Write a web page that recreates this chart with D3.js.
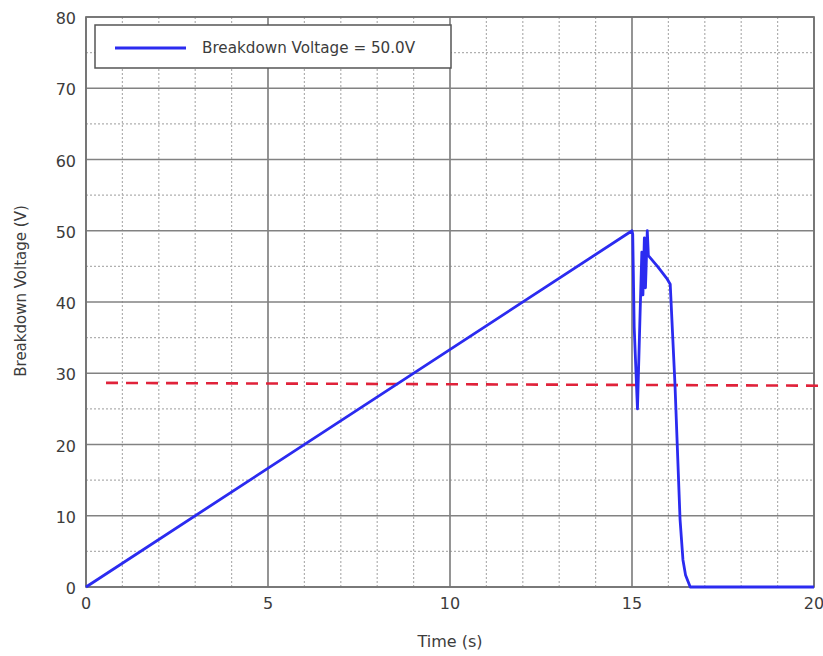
<!DOCTYPE html>
<html>
<head>
<meta charset="utf-8">
<script src="https://cdn.jsdelivr.net/npm/d3@7"></script>
<style>
  body { margin: 0; background: #fff; }
  svg { display: block; }
  text { font-family: "DejaVu Sans", Verdana, sans-serif; fill: #3c3c3c; }
</style>
</head>
<body>
<div class="chart"></div>
<script>
// data
var timeVals = [0, 15, 15.02, 15.06, 15.15, 15.22, 15.27, 15.3, 15.34, 15.37, 15.42, 15.45,
                15.7, 15.97, 16.05, 16.18, 16.32, 16.4, 16.47, 16.6, 20];
var voltVals = [0, 50, 49.5, 36.5, 25, 38, 47, 41, 49, 42, 50, 46.5,
                45, 43.2, 42.5, 28.5, 9.5, 3.8, 1.7, 0, 0];
var limitTime = [0.55, 20.25];
var limitVolt = [28.65, 28.25];
var xTicks = [0, 5, 10, 15, 20];
var yTicks = [0, 10, 20, 30, 40, 50, 60, 70, 80];
var legendLabel = "Breakdown Voltage = 50.0V";

var margin = {top: 17, right: 9, bottom: 69, left: 86};
var width = 823 - margin.left - margin.right;
var height = 656 - margin.top - margin.bottom;

var xScale = d3.scaleLinear().domain([0, 20]).range([0, width]);
var yScale = d3.scaleLinear().domain([0, 80]).range([height, 0]);

var svg = d3.select(".chart")
    .append("svg")
    .attr("width", 823)
    .attr("height", 656)
    .append("g")
    .attr("transform", "translate(" + margin.left + "," + margin.top + ")");

// minor grid (dotted)
svg.selectAll(".xminor")
    .data(d3.range(1, 20).filter(function(d) { return d % 5 != 0; }))
    .enter().append("line")
    .attr("x1", function(d) { return xScale(d); })
    .attr("x2", function(d) { return xScale(d); })
    .attr("y1", 0).attr("y2", height)
    .attr("stroke", "#b0b0b0")
    .attr("stroke-width", 1.2)
    .attr("stroke-dasharray", "2,2");

svg.selectAll(".yminor")
    .data(d3.range(5, 80, 10))
    .enter().append("line")
    .attr("y1", function(d) { return yScale(d); })
    .attr("y2", function(d) { return yScale(d); })
    .attr("x1", 0).attr("x2", width)
    .attr("stroke", "#b0b0b0")
    .attr("stroke-width", 1.2)
    .attr("stroke-dasharray", "2,2");

// major grid
svg.selectAll(".xmajor")
    .data(xTicks)
    .enter().append("line")
    .attr("x1", function(d) { return xScale(d); })
    .attr("x2", function(d) { return xScale(d); })
    .attr("y1", 0).attr("y2", height)
    .attr("stroke", "#828282")
    .attr("stroke-width", 1.7);

svg.selectAll(".ymajor")
    .data(yTicks)
    .enter().append("line")
    .attr("y1", function(d) { return yScale(d); })
    .attr("y2", function(d) { return yScale(d); })
    .attr("x1", 0).attr("x2", width)
    .attr("stroke", "#828282")
    .attr("stroke-width", 1.7);

svg.append("rect")
    .attr("width", width)
    .attr("height", height)
    .attr("fill", "none")
    .attr("stroke", "#727272")
    .attr("stroke-width", 1.7);

// tick labels
svg.selectAll(".xlabel")
    .data(xTicks)
    .enter().append("text")
    .attr("x", function(d) { return xScale(d); })
    .attr("y", height + 22)
    .attr("text-anchor", "middle")
    .style("font-size", "16px")
    .text(function(d) { return d; });

svg.selectAll(".ylabel")
    .data(yTicks)
    .enter().append("text")
    .attr("x", -10)
    .attr("y", function(d) { return yScale(d) + 7; })
    .attr("text-anchor", "end")
    .style("font-size", "16px")
    .text(function(d) { return d; });

svg.append("text")
    .attr("x", xScale(10))
    .attr("y", height + 60)
    .attr("text-anchor", "middle")
    .style("font-size", "16px")
    .text("Time (s)");

svg.append("text")
    .attr("transform", "rotate(-90)")
    .attr("x", -yScale(40) + 11)
    .attr("y", -60)
    .attr("text-anchor", "middle")
    .style("font-size", "15px")
    .text("Breakdown Voltage (V)");

// threshold dashed line
var line = d3.line()
    .x(function(d) { return xScale(d[0]); })
    .y(function(d) { return yScale(d[1]); });

svg.append("path")
    .datum(d3.zip(limitTime, limitVolt))
    .attr("d", line)
    .attr("fill", "none")
    .attr("stroke", "#e0223a")
    .attr("stroke-width", 2.6)
    .attr("stroke-dasharray", "12,8");

// voltage trace
svg.append("path")
    .datum(d3.zip(timeVals, voltVals))
    .attr("d", line)
    .attr("fill", "none")
    .attr("stroke", "#2b2bf0")
    .attr("stroke-width", 2.8)
    .attr("stroke-linejoin", "round");

// legend
var legend = svg.append("g").attr("transform", "translate(9,8)");
legend.append("rect")
    .attr("width", 356)
    .attr("height", 43)
    .attr("fill", "#fff")
    .attr("stroke", "#555")
    .attr("stroke-width", 1.5);
legend.append("line")
    .attr("x1", 20).attr("x2", 91)
    .attr("y1", 23).attr("y2", 23)
    .attr("stroke", "#2b2bf0")
    .attr("stroke-width", 2.8);
legend.append("text")
    .attr("x", 107)
    .attr("y", 28)
    .style("font-size", "15.2px")
    .text(legendLabel);
</script>
</body>
</html>
